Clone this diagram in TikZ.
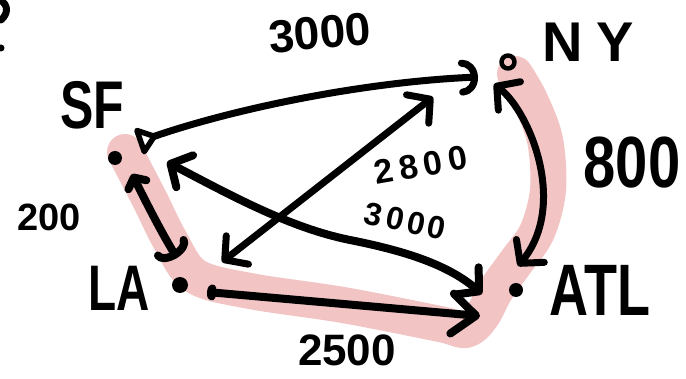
\documentclass[tikz,border=0pt]{standalone}
\usepackage{fontspec}
\setmainfont{Liberation Sans}
\usetikzlibrary{arrows.meta}
\definecolor{hl}{RGB}{242,196,196}
\begin{document}
\begin{tikzpicture}[x=1pt,y=-1pt,line cap=round,line join=round,
  conn/.style={line width=7pt,draw=black},
  hb/.tip={Straight Barb[length=16pt,width=36pt,round]},
  city/.style={circle,fill=black,inner sep=0pt,minimum size=#1},
  lab/.style={font=\bfseries\fontsize{#1}{#1}\selectfont,inner sep=0pt},
  ]
\useasboundingbox (0,0) rectangle (686,379);
% highlighted route
\draw[hl,line width=36pt] plot[smooth,tension=0.55] coordinates {(125,152) (150,200) (170,240) (195,276) (250,291) (343,305) (440,324) (466,330) (482,316) (496,290) (516,262) (537,232) (548,190) (545,140) (530,100) (515,74)};
% fragment at top-left
\draw[line width=7pt] (0,0) .. controls (9,5) and (8,14) .. (1,20);
\fill (1,48) circle (3.5pt);
% cities
\node[city=14pt] (SF) at (115,158) {};
\node[city=16pt] (LA) at (180,285) {};
\node[city=14pt] (ATL) at (516,290) {};
\node[circle,draw,line width=4.5pt,minimum size=13pt,inner sep=0pt] (NY) at (508,62) {};
% city labels
\node[lab=50] (sflab) at (92,105) {\scalebox{1}[1.35]{SF}};
\node[lab=56] (nylab) at (588,42) {N\kern14pt Y};
\node[lab=46] (lalab) at (119,288) {\scalebox{1}[1.4]{LA}};
\node[lab=54] (atllab) at (600,290) {\scalebox{1}[1.35]{ATL}};
% weights
\node[lab=46,rotate=5] (w1) at (320,33) {3000};
\node[lab=34,rotate=10] (w2) at (421,165) {2\kern6pt 8\kern6pt 0\kern6pt 0};
\node[lab=32,rotate=-12] (w3) at (405,221) {3\kern5pt 0\kern3pt 0\kern3pt 0};
\node[lab=58] (w4) at (632,163) {\scalebox{1}[1.25]{800}};
\node[lab=38] (w5) at (49,217) {200};
\node[lab=44] (w6) at (347,350) {2500};
% connector ends
\coordinate (sfnyA) at (138,142); \coordinate (sfnyB) at (478,77);
\coordinate (lanyA) at (222,262); \coordinate (lanyB) at (433,97);
\coordinate (sfatlA) at (167,162); \coordinate (sfatlB) at (482,294);
\coordinate (sflaA) at (132,174); \coordinate (sflaB) at (177,258);
\coordinate (laatlA) at (207,292); \coordinate (laatlB) at (480,316);
\coordinate (nyatlA) at (494,84); \coordinate (nyatlB) at (518,266);
% connectors
\draw[conn,{Triangle[open,reversed,length=22pt,width=32pt,round]}-{Arc Barb[length=16pt,width=36pt,round]}] (sfnyA) .. controls (230,110) and (360,82) .. (sfnyB);
\draw[conn,hb-hb] (lanyA) -- (lanyB);
\draw[conn,line width=8pt,hb-hb] (sfatlA) .. controls (230,195) and (290,228) .. (350,240) .. controls (395,249) and (445,262) .. (sfatlB);
\draw[conn,line width=8pt,{Straight Barb[length=8pt,width=20pt,round]}-{Arc Barb[length=12pt,width=38pt,round]}] (sflaA) .. controls (145,200) and (160,230) .. (sflaB);
\draw[conn,line width=8pt,{Arc Barb[length=5pt,width=16pt,round]}-{Straight Barb[length=24pt,width=40pt,round]}] (laatlA) -- (laatlB);
\draw[conn,hb-hb] (nyatlA) .. controls (530,112) and (568,205) .. (nyatlB);
\end{tikzpicture}
\end{document}
